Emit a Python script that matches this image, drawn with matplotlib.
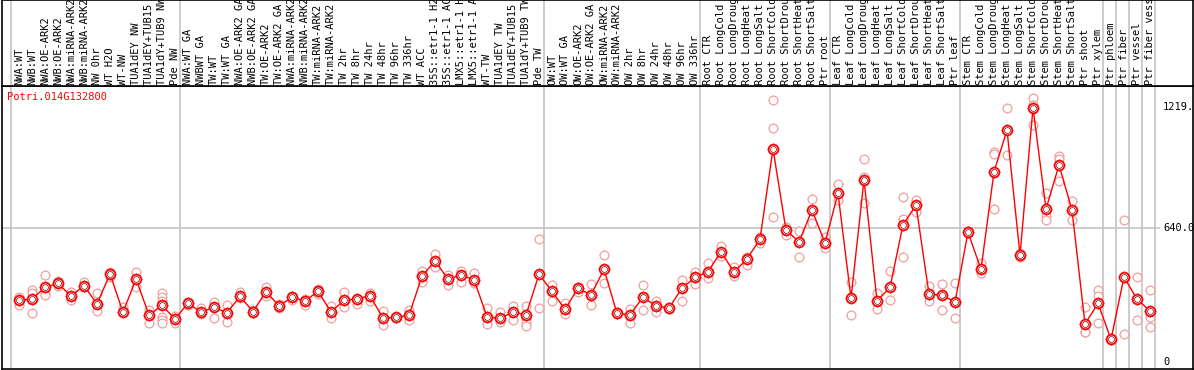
import matplotlib
matplotlib.use("Agg")
import matplotlib.pyplot as plt
import numpy as np

# ---------------- data ----------------
gene = "Potri.014G132800"

labels = [
    "NWA:WT", "NWB:WT", "NWA:OE-ARK2", "NWB:OE-ARK2", "NWA:miRNA-ARK2", "NWB:miRNA-ARK2",
    "NW 0hr", "WT H2O", "WT-NW", "TUA1dEY NW", "TUA1dEY+TUB15 NW", "TUA1dY+TUB9 NW", "Pde NW",
    "NWA:WT GA", "NWBWT GA", "TW:WT", "TW:WT GA", "NWA:OE-ARK2 GA", "NWB:OE-ARK2 GA",
    "TW:OE-ARK2", "TW:OE-ARK2 GA", "NWA:miRNA-ARK2 GA", "NWB:miRNA-ARK2 GA", "TW:miRNA-ARK2",
    "TW:miRNA-ARK2 GA", "TW 2hr", "TW 8hr", "TW 24hr", "TW 48hr", "TW 96hr", "TW 336hr",
    "WT ACC", "35S::etr1-1 H2O", "35S::etr1-1 ACC", "LMX5::etr1-1 H2O", "LMX5::etr1-1 ACC",
    "WT-TW", "TUA1dEY TW", "TUA1dEY+TUB15 TW", "TUA1dY+TUB9 TW", "Pde TW",
    "OW:WT", "OW:WT GA", "OW:OE-ARK2", "OW:OE-ARK2 GA", "OW:miRNA-ARK2", "OW:miRNA-ARK2 GA",
    "OW 2hr", "OW 8hr", "OW 24hr", "OW 48hr", "OW 96hr", "OW 336hr",
    "Root CTR", "Root LongCold", "Root LongDrought", "Root LongHeat", "Root LongSalt",
    "Root ShortCold", "Root ShortDrought", "Root ShortHeat", "Root ShortSalt", "Ptr root",
    "Leaf CTR", "Leaf LongCold", "Leaf LongDrought", "Leaf LongHeat", "Leaf LongSalt",
    "Leaf ShortCold", "Leaf ShortDrought", "Leaf ShortHeat", "Leaf ShortSalt", "Ptr leaf",
    "Stem CTR", "Stem LongCold", "Stem LongDrought", "Stem LongHeat", "Stem LongSalt",
    "Stem ShortCold", "Stem ShortDrought", "Stem ShortHeat", "Stem ShortSalt", "Ptr shoot",
    "Ptr xylem", "Ptr phloem", "Ptr fiber", "Ptr vessel", "Ptr fiber vessel",
]

group_sizes = [13, 28, 12, 10, 10, 11, 1, 1, 1, 1]

means = [298, 302, 358, 377, 317, 366, 279, 422, 239, 398, 226, 272, 207,
         283, 239, 263, 237, 315, 242, 338, 269, 311, 293, 339, 241, 296, 304, 317,
         212, 215, 225, 411, 485, 397, 416, 395, 218, 210, 241, 226, 420,
         339, 253, 354, 322, 444, 234, 228, 311, 269, 260, 354, 406,
         433, 528, 431, 494, 588, 1019, 632, 575, 727, 570,
         807, 306, 871, 293, 358, 656, 751, 326, 321, 288,
         621, 444, 909, 1109, 513, 1215, 732, 942, 727, 183, 282,
         110, 407, 302, 245]

replicates = [
    [314, 298, 274], [346, 330, 234], [417, 338, 322], [390, 377, 365], [338, 317, 298],
    [385, 366, 358], [333, 279, 247], [433, 422, 409], [263, 239, 239], [433, 398, 361],
    [250, 226, 190], [333, 314, 295, 272, 218, 202, 190], [221, 207, 187],
    [288, 283, 274], [258, 239, 231], [290, 263, 210], [274, 237, 191], [335, 315, 306],
    [250, 242, 234], [361, 338, 317], [279, 269, 258], [319, 311, 298], [304, 293, 274],
    [349, 339, 327], [269, 241, 210], [335, 296, 266], [304, 304, 279], [333, 317, 293],
    [247, 212, 178], [218, 215, 212], [250, 225, 202], [438, 411, 385], [517, 485, 457],
    [417, 397, 369], [438, 416, 385], [428, 395, 380], [258, 218, 182], [242, 210, 194],
    [269, 241, 202], [269, 226, 206, 190, 174], [588, 420, 258],
    [369, 339, 293], [285, 253, 229], [358, 354, 338], [374, 322, 274], [511, 444, 377],
    [241, 234, 230], [256, 228, 190], [368, 311, 250], [295, 269, 239], [263, 260, 255],
    [393, 354, 293], [433, 406, 373],
    [476, 433, 401], [556, 528, 508], [457, 431, 414], [505, 494, 465], [600, 588, 568],
    [1252, 1118, 694], [648, 632, 608], [629, 575, 505], [778, 727, 667], [600, 568, 545],
    [851, 807, 775], [382, 306, 226], [969, 883, 759], [333, 293, 255], [436, 358, 298],
    [789, 683, 502], [775, 751, 719], [365, 326, 293], [373, 321, 250], [380, 288, 210],
    [625, 621, 617], [473, 444, 428], [1006, 995, 732], [1216, 1109, 990], [521, 513, 505],
    [1261, 1229, 1134], [810, 699, 680], [987, 969, 867], [770, 727, 680], [263, 144, 143],
    [346, 317, 187],
    [112, 110, 108], [680, 406, 134], [406, 301, 202], [346, 218, 167],
]

axis_values = [1219, 640, 0]
axis_texts = ["1219.", "640.0", "0"]

# ---------------- figure ----------------
W, H = 1194, 370
fig = plt.figure(figsize=(W / 100, H / 100), dpi=100)
mono = "DejaVu Sans Mono"

ax = fig.add_axes([2 / W, 1 / H, 1191 / W, 283 / H])
hax = fig.add_axes([2 / W, 284 / H, 1191 / W, 86 / H])

xlim = (-17 / 13, 1174 / 13)
ax.set_xlim(*xlim)
ax.set_ylim(-31.5, 1319)
hax.set_xlim(*xlim)
hax.set_ylim(86, 0)

for a in (ax, hax):
    a.set_xticks([])
    a.set_yticks([])
    for s in a.spines.values():
        s.set_color("black")
        s.set_linewidth(1.2)

grid_c = "#c4c4c4"
bounds = [-0.6] + list(np.cumsum(group_sizes) - 0.6)
for b in bounds:
    ax.axvline(b, color=grid_c, lw=1.2, zorder=0)
    hax.axvline(b, color=grid_c, lw=1.2, zorder=0)

ax.hlines(640, xlim[0], 87.8, color=grid_c, lw=1.2, zorder=0)

x = np.arange(len(means))

# replicates
rx = np.concatenate([[i] * len(r) for i, r in enumerate(replicates)])
ry = np.concatenate(replicates)
pink = "#f0a0a0"
ax.plot(rx, ry, linestyle="none", marker="+", ms=7.8, mec=pink, mew=0.6, zorder=2)
ax.plot(rx, ry, linestyle="none", marker="o", ms=6.3, mfc="white", mec=pink, mew=0.9, zorder=2)

# means
red = "#ff0000"
ax.plot(x, means, color=red, lw=1.0, zorder=3)
ax.plot(x, means, linestyle="none", marker="+", ms=8.6, mec=red, mew=0.7, zorder=4)
ax.plot(x, means, linestyle="none", marker="o", ms=7.0, mfc="white", mec=red, mew=1.3, zorder=4)
ax.plot(x, means, linestyle="none", marker="o", ms=4.2, mfc="none", mec="#7a0000", mew=0.5, zorder=5)

# header labels
for i, lab in enumerate(labels):
    hax.text(i, 85, lab, rotation=90, ha="center", va="bottom", fontsize=7.5,
             family=mono, color="black", clip_on=True)

# right axis labels
for v, t in zip(axis_values, axis_texts):
    ax.text(1144 / 13, v, t, ha="left", va="center", fontsize=7.5,
            family=mono, color="black", clip_on=False)

# title
fig.text(7 / W, 1 - 97 / H, gene, ha="left", va="center", fontsize=7.5,
         family=mono, color=red)

fig.savefig("out.png", dpi=100)
